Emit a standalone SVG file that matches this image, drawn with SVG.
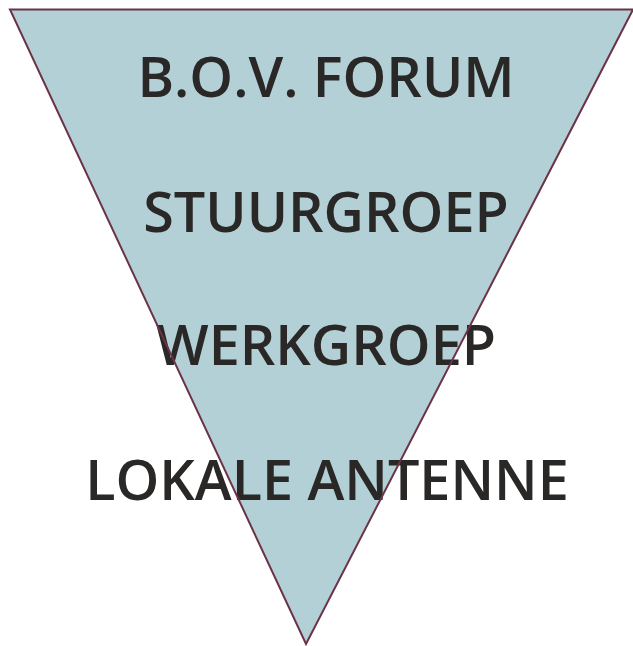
<svg xmlns="http://www.w3.org/2000/svg" width="633" height="646" viewBox="0 0 633 646">
<style>
.t{font-family:"Open Sans","DejaVu Sans",sans-serif;font-size:55.7px;font-weight:600;fill:#2a2826;text-anchor:middle}
</style>
<rect width="633" height="646" fill="#ffffff"/>
<g id="triangle-fill">
<polygon points="10,9.5 633,9.5 306,644" fill="#b3d0d6"/>
</g>
<g id="labels">
<text id="bov-forum" class="t" x="326" y="97">B.O.V. FORUM</text>
<text id="stuurgroep" class="t" x="326" y="232">STUURGROEP</text>
<text id="werkgroep" class="t" x="326" y="365">WERKGROEP</text>
<text id="lokale-antenne" class="t" x="327" y="500">LOKALE ANTENNE</text>
</g>
<g id="triangle-outline">
<polygon points="10,9.5 633,9.5 306,644" fill="none" stroke="#6b3347" stroke-width="2"/>
</g>
</svg>
